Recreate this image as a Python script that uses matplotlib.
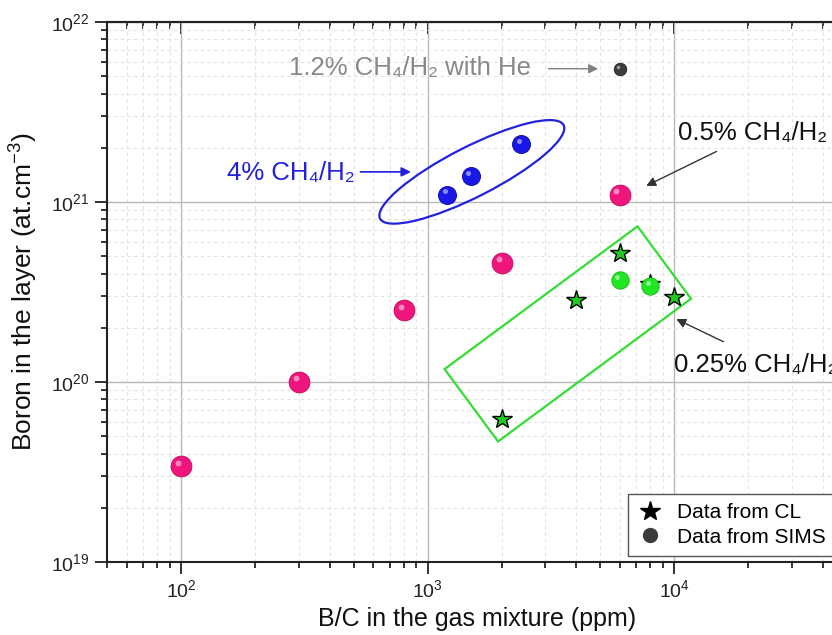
import numpy as np
import matplotlib
matplotlib.use('Agg')
import matplotlib.pyplot as plt
import matplotlib.transforms as mtransforms
from matplotlib.patches import Ellipse, Rectangle
from matplotlib.lines import Line2D

plt.rcParams['font.family'] = ['Liberation Sans', 'DejaVu Sans']
plt.rcParams['mathtext.fontset'] = 'custom'
plt.rcParams['mathtext.rm'] = 'Liberation Sans'
plt.rcParams['mathtext.it'] = 'Liberation Sans:italic'
plt.rcParams['mathtext.bf'] = 'Liberation Sans:bold'

# SIMS, 0.5% CH4/H2
bc_05 = [100, 300, 800, 2000, 6000]
boron_05 = [3.4e19, 1.0e20, 2.5e20, 4.6e20, 1.1e21]
# SIMS, 4% CH4/H2
bc_4 = [1200, 1500, 2400]
boron_4 = [1.1e21, 1.4e21, 2.1e21]
# SIMS, 0.25% CH4/H2
bc_025 = [6000, 8000]
boron_025 = [3.7e20, 3.4e20]
# SIMS, 1.2% CH4/H2 with He
bc_he = [6000]
boron_he = [5.5e21]
# CL
bc_cl = [2000, 4000, 6000, 8000, 10000]
boron_cl = [6.2e19, 2.85e20, 5.2e20, 3.5e20, 2.95e20]

fig = plt.figure(figsize=(8.32, 6.35), dpi=100)
ax = fig.add_axes([107 / 832, 73 / 635, 739.5 / 832, 540 / 635])
ax.set_xscale('log')
ax.set_yscale('log')
ax.set_xlim(50, 5e4)
ax.set_ylim(1e19, 1e22)


def spheres(x, y, color, ms, dark, z=5):
    ax.plot(x, y, 'o', color=color, ms=ms, mec=dark, mew=0.6, zorder=z)
    hl = mtransforms.offset_copy(ax.transData, fig=fig, x=-ms * 0.15, y=ms * 0.17, units='points')
    ax.plot(x, y, 'o', color='white', alpha=0.5, ms=ms * 0.28, mec='none', transform=hl, zorder=z + 0.1)


spheres(bc_05, boron_05, '#f0157c', 15, '#c00a5c')
spheres(bc_4, boron_4, '#1818e8', 13, '#0a0aa0')
spheres(bc_he, boron_he, '#3c3c3c', 9, '#202020')
ax.plot(bc_cl, boron_cl, '*', color='#1ecc1e', mec='black', mew=1.0, ms=15, zorder=7)
spheres(bc_025, boron_025, '#22e622', 12.5, '#18b018', z=8)

# ellipse around 4% points, rectangle around 0.25% points
tr = fig.dpi_scale_trans + mtransforms.ScaledTranslation(1510, 1.47e21, ax.transData)
ax.add_patch(Ellipse((0, 0), 2.06, 0.5, angle=27, fill=False, ec='#2222dd', lw=1.6,
                     transform=tr, zorder=4))
tr2 = fig.dpi_scale_trans + mtransforms.ScaledTranslation(3700, 1.85e20, ax.transData)
ax.add_patch(Rectangle((-1.2, -0.45), 2.4, 0.9, angle=36.5, rotation_point='center',
                       fill=False, ec='#33dd33', lw=1.6, transform=tr2, zorder=4))

ax.text(273, 5.55e21, '1.2% CH₄/H₂ with He', color='#888888', fontsize=18.5,
        ha='left', va='center')
ax.annotate('', xy=(5040, 5.5e21), xytext=(3010, 5.5e21),
            arrowprops=dict(arrowstyle='-|>', color='#808080', lw=1, mutation_scale=14))
ax.text(154, 1.45e21, '4% CH₄/H₂', color='#2020dd', fontsize=18.5, ha='left', va='center')
ax.annotate('', xy=(877, 1.47e21), xytext=(520, 1.47e21),
            arrowprops=dict(arrowstyle='-|>', color='#2020dd', lw=1.2, mutation_scale=14))
ax.text(10400, 2.42e21, '0.5% CH₄/H₂', color='#111111', fontsize=18.5, ha='left', va='center')
ax.annotate('', xy=(7520, 1.21e21), xytext=(15200, 1.94e21),
            arrowprops=dict(arrowstyle='-|>', color='#333333', lw=1, mutation_scale=14))
ax.text(9960, 1.24e20, '0.25% CH₄/H₂', color='#111111', fontsize=18.5, ha='left', va='center')
ax.annotate('', xy=(9960, 2.27e20), xytext=(16200, 1.65e20),
            arrowprops=dict(arrowstyle='-|>', color='#333333', lw=1, mutation_scale=14))

ax.set_axisbelow(True)
ax.grid(which='major', color='#b8b8b8', lw=1)
ax.grid(which='minor', color='#e2e2e2', lw=0.8, ls=(0, (3, 3)))

ax.tick_params(which='major', direction='out', length=8.6, width=1.3, labelsize=14,
               colors='#222222', pad=4, top=False, right=False)
ax.tick_params(which='minor', direction='out', length=4.3, width=1.1, top=False, right=False)
for s in ax.spines.values():
    s.set_linewidth(1.5)
    s.set_color('#222222')
top = ax.secondary_xaxis('top')
top.tick_params(which='major', direction='in', length=8.6, width=1.3, labeltop=False)
top.tick_params(which='minor', direction='in', length=5, width=1.1)
top.spines['top'].set_linewidth(1.5)

ax.set_xlabel('B/C in the gas mixture (ppm)', fontsize=18, color='#111111')
ax.xaxis.set_label_coords(0.5, -0.083)
ax.set_ylabel('Boron in the layer (at.cm$^{-3}$)', fontsize=19, color='#111111')
ax.yaxis.set_label_coords(-0.09, 0.5)

handles = [Line2D([], [], marker='*', color='black', ls='none', ms=15),
           Line2D([], [], marker='o', color='#3c3c3c', ls='none', ms=10)]
leg = ax.legend(handles, ['Data from CL', 'Data from SIMS'], loc='lower left',
                bbox_to_anchor=(0.7045, 0.011), borderaxespad=0, fontsize=15,
                fancybox=False, framealpha=1, edgecolor='#555555', handletextpad=0.7,
                labelspacing=0.25, handlelength=1.2, borderpad=0.45)
leg.get_frame().set_linewidth(1)

fig.savefig('out.png', dpi=100)
